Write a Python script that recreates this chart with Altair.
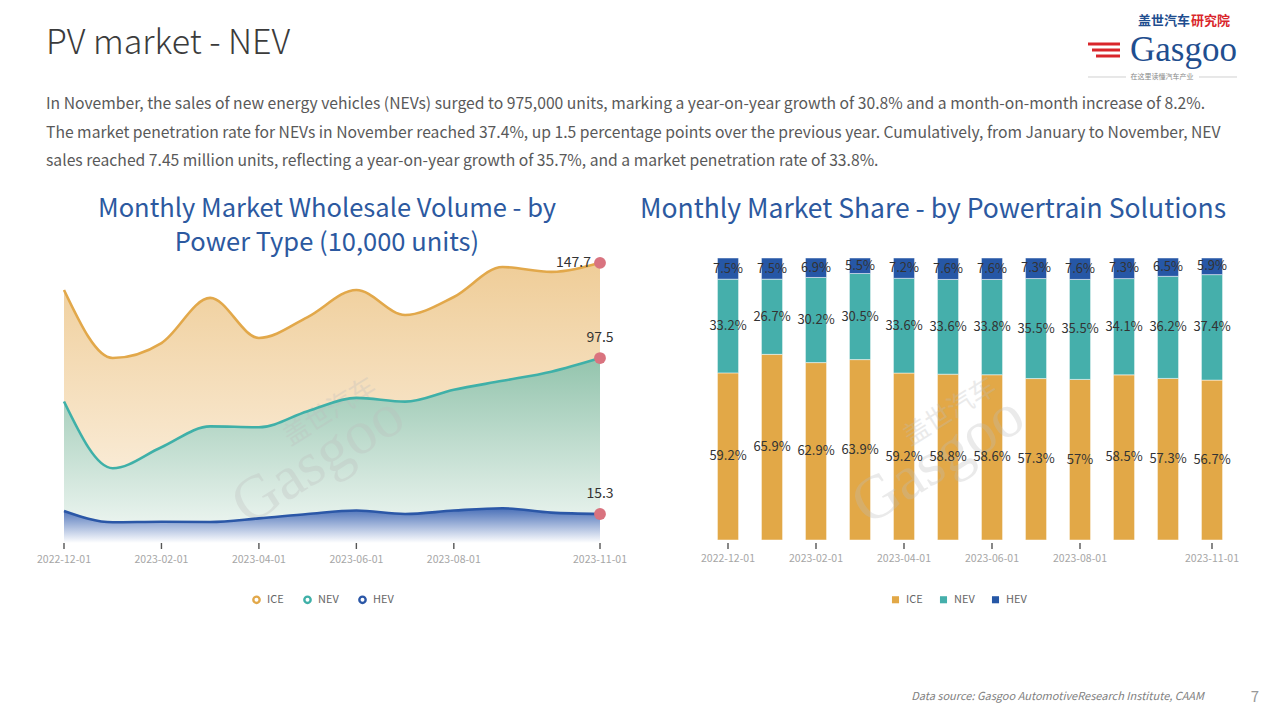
import altair as alt
import pandas as pd

# ---------------- data ----------------
months = ["2022-12-01", "2023-01-01", "2023-02-01", "2023-03-01", "2023-04-01", "2023-05-01",
          "2023-06-01", "2023-07-01", "2023-08-01", "2023-09-01", "2023-10-01", "2023-11-01"]
tick_months = ["2022-12-01", "2023-02-01", "2023-04-01", "2023-06-01", "2023-08-01", "2023-11-01"]
series = ["ICE", "NEV", "HEV"]

# wholesale volume (10,000 units)
ice_vol = [133.4, 97.5, 105.4, 129.2, 108.1, 119.1, 133.4, 120.2, 129.7, 145.5, 142.9, 147.7]
nev_vol = [74.6, 39.4, 50.5, 61.5, 61.0, 69.5, 76.5, 74.5, 80.8, 85.5, 90.3, 97.5]
hev_vol = [16.9, 10.9, 11.2, 11.1, 13.0, 15.3, 17.1, 15.3, 17.1, 18.3, 16.0, 15.3]

# market share (%)
ice_pct = [59.2, 65.9, 62.9, 63.9, 59.2, 58.8, 58.6, 57.3, 57, 58.5, 57.3, 56.7]
nev_pct = [33.2, 26.7, 30.2, 30.5, 33.6, 33.6, 33.8, 35.5, 35.5, 34.1, 36.2, 37.4]
hev_pct = [7.5, 7.5, 6.9, 5.5, 7.2, 7.6, 7.6, 7.3, 7.6, 7.3, 6.5, 5.9]

title_text = "PV market - NEV"
para_lines = [
    "In November, the sales of new energy vehicles (NEVs) surged to 975,000 units, marking a year-on-year growth of 30.8% and a month-on-month increase of 8.2%.",
    "The market penetration rate for NEVs in November reached 37.4%, up 1.5 percentage points over the previous year. Cumulatively, from January to November, NEV",
    "sales reached 7.45 million units, reflecting a year-on-year growth of 35.7%, and a market penetration rate of 33.8%.",
]
left_title = ["Monthly Market Wholesale Volume - by", "Power Type (10,000 units)"]
right_title = "Monthly Market Share - by Powertrain Solutions"
source_text = "Data source: Gasgoo AutomotiveResearch Institute, CAAM"
page_no = "7"

# ---------------- tables ----------------
vol = pd.DataFrame({
    "m": months * 3,
    "s": [s for s in series for _ in months],
    "v": ice_vol + nev_vol + hev_vol,
})
vol["o"] = vol["s"].map({s: i for i, s in enumerate(series)})
last = vol[vol["m"] == months[-1]]

share = pd.DataFrame({
    "m": months * 3,
    "s": [s for s in series for _ in months],
    "v": ice_pct + nev_pct + hev_pct,
})
share["o"] = share["s"].map({s: i for i, s in enumerate(series)})
ticks = pd.DataFrame({"m": tick_months})

FONT = "Noto Sans CJK SC"
line_colors = ["#e2a84a", "#3fb0a8", "#2b57a7"]
bar_colors = ["#e2a847", "#45afab", "#2657a6"]
TITLE_BLUE = "#2c59a0"

# ---------------- scales (canvas coords = screen - 8) ----------------
XL = alt.X("m:O", scale=alt.Scale(type="point", domain=months, range=[56, 592], padding=0), axis=None)
YL_SCALE = alt.Scale(domain=[0, 150], range=[535, 535 - 150 * 1.897])
XR = alt.X("m:O", scale=alt.Scale(type="band", domain=months, range=[698, 1226],
                                  paddingInner=0.52, paddingOuter=0.26), axis=None)
YR_SCALE = alt.Scale(domain=[0, 1], range=[532, 250])


def txt(t, x, y, size, color="#333", align="left", baseline="middle", font=FONT,
        weight="normal", style="normal", angle=0, opacity=1.0):
    return alt.Chart(pd.DataFrame({"t": [t]})).mark_text(
        align=align, baseline=baseline, font=font, fontSize=size, color=color,
        fontWeight=weight, fontStyle=style, angle=angle, opacity=opacity
    ).encode(x=alt.value(x), y=alt.value(y), text="t:N")


layers = []

# ---------------- header ----------------
layers.append(txt(title_text, 38, 36, 34, color="#3b3b3b", weight=300))
for i, line in enumerate(para_lines):
    layers.append(txt(line, 38, 96 + i * 28.5, 15.7, color="#595959"))

# logo (text approximation)
layers.append(txt("盖世汽车", 1130, 13, 13, color="#1f4e8f", weight="bold"))
layers.append(txt("研究院", 1183, 13, 13, color="#d9262b", weight="bold"))
layers.append(txt("Gasgoo", 1229, 53, 35, color="#1f4e8f", align="right",
                  baseline="alphabetic", font="Liberation Serif"))
for k, (xa, xb) in enumerate([(1080, 1112), (1084, 1112), (1088, 1112)]):
    layers.append(alt.Chart(pd.DataFrame({"t": [k]})).mark_rule(color="#d9262b", strokeWidth=3).encode(
        x=alt.value(xa), x2=alt.value(xb), y=alt.value(36 + k * 6)))
layers.append(txt("在这里读懂汽车产业", 1154, 69, 7, color="#888", align="center"))
layers.append(alt.Chart(pd.DataFrame({"t": [0]})).mark_rule(color="#bbb", strokeWidth=0.7).encode(
    x=alt.value(1080), x2=alt.value(1118), y=alt.value(69)))
layers.append(alt.Chart(pd.DataFrame({"t": [0]})).mark_rule(color="#bbb", strokeWidth=0.7).encode(
    x=alt.value(1191), x2=alt.value(1229), y=alt.value(69)))

# chart titles
layers.append(txt(left_title[0], 319, 201, 25.5, color=TITLE_BLUE, align="center"))
layers.append(txt(left_title[1], 319, 235, 25.5, color=TITLE_BLUE, align="center"))
layers.append(txt(right_title, 925, 202, 26.5, color=TITLE_BLUE, align="center"))

# ---------------- left chart: areas ----------------
grads = {
    "ICE": ("#efcd98", "#fdf5ea"),
    "NEV": ("#93c4ad", "#f4f9f6"),
    "HEV": ("#4a70b8", "#ffffff"),
}
for s in series:
    top, bot = grads[s]
    layers.append(
        alt.Chart(vol).transform_filter(alt.datum.s == s).mark_area(
            interpolate="monotone",
            color=alt.Gradient(gradient="linear", x1=1, x2=1, y1=0, y2=1,
                               stops=[alt.GradientStop(color=top, offset=0),
                                      alt.GradientStop(color=bot, offset=1)]),
        ).encode(x=XL, y=alt.Y("v:Q", scale=YL_SCALE, axis=None, stack=None))
    )

# ---------------- right chart: 100% stacked bars ----------------
layers.append(
    alt.Chart(share).mark_bar(stroke="white", strokeWidth=0.8, strokeOpacity=0.6).encode(
        x=XR,
        y=alt.Y("v:Q", stack="normalize", scale=YR_SCALE, axis=None),
        color=alt.Color("s:N", scale=alt.Scale(domain=series, range=bar_colors),
                        legend=alt.Legend(orient="none", legendX=882, legendY=586, direction="horizontal",
                                          title=None, symbolType="square", symbolSize=50,
                                          symbolStrokeWidth=0, labelFont=FONT, labelFontSize=11,
                                          labelColor="#666", columnPadding=15, labelOffset=5)),
        order=alt.Order("o:Q", sort="ascending"),
    )
)

# watermarks (over the fills)
for cx in (0, 620):
    layers.append(txt("Gasgoo", 310 + cx, 452, 62, color="#bdbdbd", align="center", font="Liberation Serif",
                      angle=328, opacity=0.3))
    layers.append(txt("盖世汽车", 322 + cx, 404, 26, color="#bdbdbd", align="center", angle=328, opacity=0.3))

layers.append(
    alt.Chart(vol).mark_line(interpolate="monotone", strokeWidth=2.6).encode(
        x=XL,
        y=alt.Y("v:Q", scale=YL_SCALE, axis=None),
        color=alt.Color("s:N", scale=alt.Scale(domain=series, range=line_colors),
                        legend=alt.Legend(orient="none", legendX=243, legendY=586, direction="horizontal",
                                          title=None, symbolType="circle", symbolSize=40,
                                          symbolStrokeWidth=2.4, symbolFillColor="white",
                                          labelFont=FONT, labelFontSize=11, labelColor="#666",
                                          columnPadding=15, labelOffset=5)),
        detail="s:N",
        order="o:Q",
    )
)

layers.append(
    alt.Chart(last).mark_circle(size=140, color="#d9737f", opacity=1).encode(
        x=XL, y=alt.Y("v:Q", scale=YL_SCALE, axis=None))
)
layers.append(
    alt.Chart(last).transform_filter(alt.datum.s == "ICE").mark_text(
        align="right", baseline="middle", dx=-9, font=FONT, fontSize=14, color="#333").encode(
        x=XL, y=alt.Y("v:Q", scale=YL_SCALE, axis=None), text="v:N")
)
layers.append(
    alt.Chart(last).transform_filter(alt.datum.s != "ICE").mark_text(
        align="center", baseline="middle", dy=-20, font=FONT, fontSize=14, color="#333").encode(
        x=XL, y=alt.Y("v:Q", scale=YL_SCALE, axis=None), text="v:N")
)

# left axis ticks + labels
layers.append(alt.Chart(ticks).mark_rule(color="#555", strokeWidth=1.4).encode(
    x=XL, y=alt.value(535), y2=alt.value(541)))
layers.append(alt.Chart(ticks).mark_text(font=FONT, fontSize=10.5, color="#a6a6a6", baseline="middle").encode(
    x=XL, y=alt.value(552), text="m:N"))

# bar labels
layers.append(
    alt.Chart(share).transform_stack(
        stack="v", groupby=["m"], as_=["y0", "y1"], offset="normalize",
        sort=[alt.SortField("o", order="ascending")]
    ).transform_calculate(mid="(datum.y0 + datum.y1) / 2", lab="datum.v + '%'").mark_text(
        font=FONT, fontSize=13, color="#333", baseline="middle").encode(
        x=XR, y=alt.Y("mid:Q", scale=YR_SCALE, axis=None), text="lab:N")
)

# right axis ticks + labels
layers.append(alt.Chart(ticks).mark_rule(color="#555", strokeWidth=1.4).encode(
    x=XR, y=alt.value(535), y2=alt.value(541)))
layers.append(alt.Chart(ticks).mark_text(font=FONT, fontSize=10.5, color="#a6a6a6", baseline="middle").encode(
    x=XR, y=alt.value(551), text="m:N"))

# ---------------- footer ----------------
layers.append(txt(source_text, 1196, 689, 11, color="#7f7f7f", align="right", style="italic"))
layers.append(txt(page_no, 1247, 689, 15, color="#999", align="center"))

chart = alt.layer(*layers).resolve_scale(
    x="independent", y="independent", color="independent"
).resolve_legend(color="independent").properties(
    width=1264, height=704, autosize=alt.AutoSizeParams(type="none"), padding=0, background="white"
).configure_view(stroke=None)

chart.save("out.html", embed_options={"renderer": "svg", "actions": False})
